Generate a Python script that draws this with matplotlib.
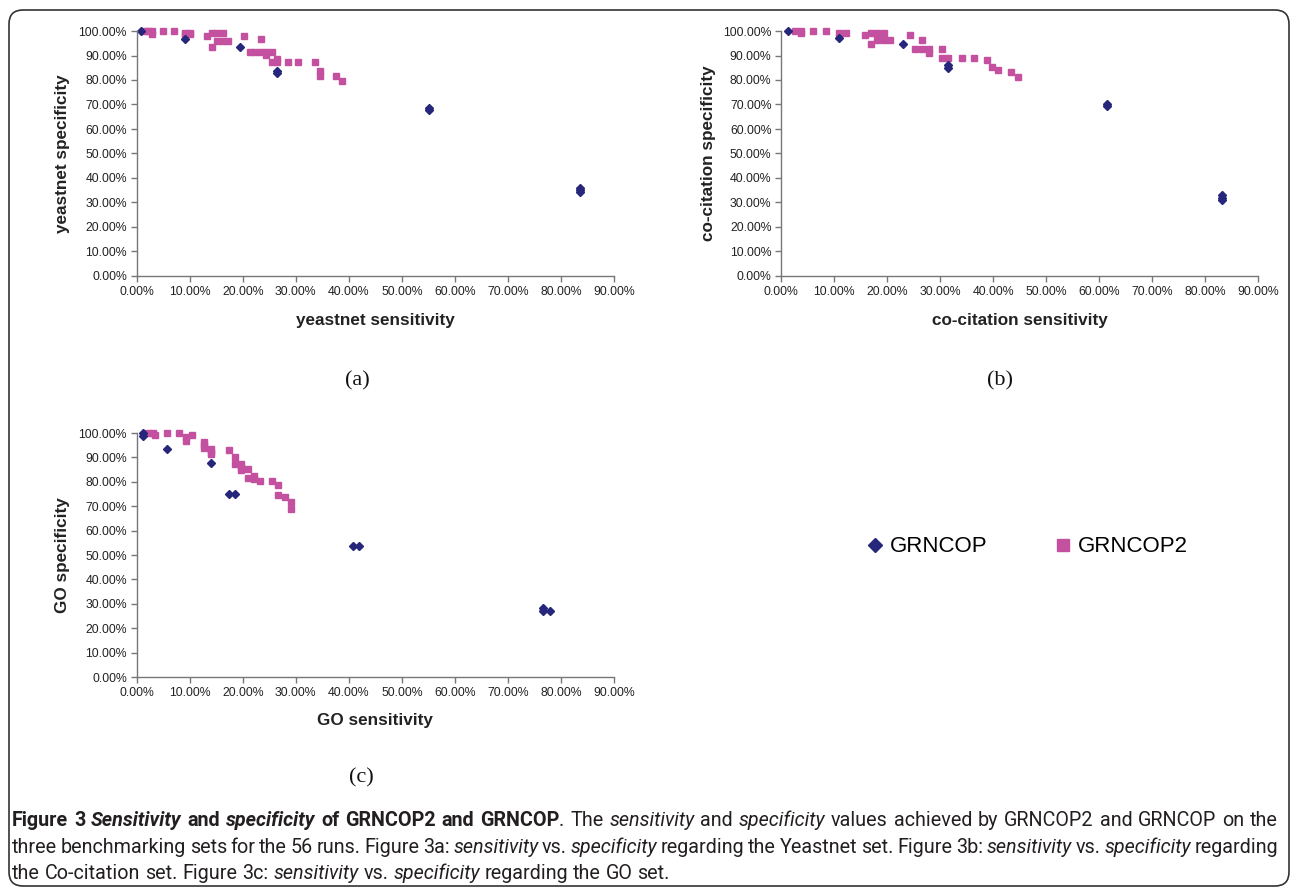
import matplotlib
matplotlib.use("Agg")
import matplotlib.pyplot as plt
from matplotlib.lines import Line2D
from matplotlib.patches import FancyBboxPatch
from matplotlib.transforms import IdentityTransform
from matplotlib.ticker import MultipleLocator, FuncFormatter

# sensitivity (x) / specificity (y) in percent
a_grncop_x = [0.9, 9.2, 19.4, 26.5, 26.5, 55.2, 55.2, 83.6, 83.6, 83.6]
a_grncop_y = [100.0, 96.7, 93.5, 83.8, 82.7, 68.5, 67.8, 36.0, 35.0, 34.2]
a_grncop2_x = [1.6, 2.2, 2.9, 2.9, 5.0, 7.0, 9.2, 10.1, 9.2, 10.1, 13.2, 14.2, 15.2, 16.2,
               14.2, 15.2, 16.2, 17.3, 20.3, 23.4, 21.4, 22.4, 23.4, 24.4, 25.5, 24.4,
               25.5, 26.5, 26.5, 28.5, 30.5, 33.6, 34.6, 34.6, 37.6, 38.7]
a_grncop2_y = [100.0, 100.0, 100.0, 98.8, 100.0, 100.0, 99.3, 99.3, 98.5, 98.6, 98.1, 99.3, 99.3, 99.3,
               93.6, 95.8, 95.8, 95.8, 98.0, 96.9, 91.6, 91.6, 91.6, 91.6, 91.6, 90.3,
               87.2, 87.2, 88.4, 87.2, 87.2, 87.2, 83.8, 81.8, 81.8, 79.5]

b_grncop_x = [1.3, 10.9, 23.0, 31.5, 31.5, 61.5, 61.5, 83.2, 83.2, 83.2]
b_grncop_y = [100.0, 97.3, 94.6, 86.1, 84.8, 70.0, 69.5, 33.1, 32.0, 31.0]
b_grncop2_x = [2.5, 3.7, 3.7, 6.0, 8.4, 10.9, 12.2, 15.7, 16.9, 18.1, 19.3, 16.9, 18.1, 19.3,
               20.6, 24.2, 26.6, 25.2, 26.6, 27.9, 27.9, 30.3, 30.3, 31.5, 34.0, 36.4,
               38.8, 39.8, 40.9, 43.4, 44.6]
b_grncop2_y = [100.0, 100.0, 99.0, 100.0, 100.0, 99.3, 99.3, 98.5, 99.3, 99.3, 99.3, 94.7, 96.3, 96.3,
               96.3, 98.4, 96.3, 92.7, 92.7, 92.7, 90.9, 92.7, 88.8, 88.8, 88.8, 88.8,
               88.0, 85.2, 84.2, 83.4, 81.3]

c_grncop_x = [1.1, 1.1, 5.8, 14.0, 17.4, 18.6, 40.7, 41.9, 76.7, 76.7, 78.0]
c_grncop_y = [100.0, 98.9, 93.4, 87.6, 75.1, 75.1, 53.7, 53.7, 28.2, 27.1, 27.0]
c_grncop2_x = [2.2, 3.1, 3.5, 5.8, 8.0, 9.3, 9.3, 10.4, 12.7, 12.7, 12.7, 14.0, 14.0, 14.0,
               17.4, 18.5, 18.5, 19.7, 19.7, 19.7, 20.9, 20.9, 22.1, 22.1, 23.2, 25.5,
               26.7, 26.7, 27.9, 29.1, 29.1]
c_grncop2_y = [100.0, 100.0, 99.1, 100.0, 100.0, 98.4, 96.7, 99.3, 96.4, 95.2, 94.0, 93.3, 92.3, 91.3,
               92.9, 90.2, 87.2, 87.2, 86.0, 84.8, 85.4, 81.4, 82.4, 81.1, 80.5, 80.5,
               78.6, 74.6, 73.7, 71.7, 68.8]

W, H = 1293, 891
navy = "#26267a"
pink = "#c4519f"
axis_gray = "#777777"
txt = "#222222"
sans = "Liberation Sans"
plt.rcParams["font.family"] = [sans, "DejaVu Sans"]

fig = plt.figure(figsize=(W / 100, H / 100), dpi=100)


def px_axes(left, top, right, bottom):
    return fig.add_axes([left / W, 1 - bottom / H, (right - left) / W, (bottom - top) / H])


def setup(ax):
    ax.set_xlim(0, 90)
    ax.set_ylim(0, 100)
    ax.xaxis.set_major_locator(MultipleLocator(10))
    ax.yaxis.set_major_locator(MultipleLocator(10))
    fmt = FuncFormatter(lambda v, p: "%.2f%%" % v)
    ax.xaxis.set_major_formatter(fmt)
    ax.yaxis.set_major_formatter(fmt)
    for s in ["top", "right"]:
        ax.spines[s].set_visible(False)
    for s in ["left", "bottom"]:
        ax.spines[s].set_color(axis_gray)
        ax.spines[s].set_linewidth(1.0)
    ax.tick_params(direction="out", length=4, width=1, color=axis_gray,
                   labelsize=8.8, labelcolor=txt, pad=3)


def draw(ax, gx, gy, g2x, g2y):
    ax.plot(g2x, g2y, ls="none", marker="s", ms=4.6, color=pink, mec=pink, clip_on=False)
    ax.plot(gx, gy, ls="none", marker="D", ms=4.4, color=navy, mec=navy, clip_on=False)


ax_a = px_axes(136.7, 31, 614, 276)
ax_b = px_axes(781.3, 31, 1258.3, 276)
ax_c = px_axes(136.7, 433, 614, 677)
for ax in (ax_a, ax_b, ax_c):
    setup(ax)
draw(ax_a, a_grncop_x, a_grncop_y, a_grncop2_x, a_grncop2_y)
draw(ax_b, b_grncop_x, b_grncop_y, b_grncop2_x, b_grncop2_y)
draw(ax_c, c_grncop_x, c_grncop_y, c_grncop2_x, c_grncop2_y)


def ftext(x, y, s, **kw):
    return fig.text(x / W, 1 - y / H, s, **kw)


lab_kw = dict(fontweight="bold", fontsize=12.3, color=txt, ha="center", va="center")
ftext(63, 153.5, "yeastnet specificity", rotation=90, **lab_kw)
ftext(375.4, 321, "yeastnet sensitivity", **lab_kw)
ftext(708, 153.5, "co-citation specificity", rotation=90, **lab_kw)
ftext(1019.8, 321, "co-citation sensitivity", **lab_kw)
ftext(63, 555, "GO specificity", rotation=90, **lab_kw)
ftext(375.4, 721, "GO sensitivity", **lab_kw)

pan_kw = dict(fontfamily="Liberation Serif", fontsize=16, color="#111111",
              ha="center", va="center")
ftext(357, 381, "(a)", **pan_kw)
ftext(1000, 381, "(b)", **pan_kw)
ftext(361, 778, "(c)", **pan_kw)

handles = [Line2D([], [], ls="none", marker="D", ms=7, color=navy, label="GRNCOP"),
           Line2D([], [], ls="none", marker="s", ms=8.5, color=pink, label="GRNCOP2")]
fig.legend(handles=handles, loc="center", bbox_to_anchor=(1027 / W, 1 - 547 / H),
           ncol=2, frameon=False, prop={"size": 16},
           handletextpad=0.25, columnspacing=3.0, handlelength=0.8)

# caption, laid out word by word
cap_lines = [
    [("Figure 3 ", "b"), ("Sensitivity", "bi"), (" and ", "b"), ("specificity", "bi"),
     (" of GRNCOP2 and GRNCOP", "b"), (". The ", "n"), ("sensitivity", "i"), (" and ", "n"),
     ("specificity", "i"), (" values achieved by GRNCOP2 and GRNCOP on the", "n")],
    [("three benchmarking sets for the 56 runs. Figure 3a: ", "n"), ("sensitivity", "i"),
     (" vs. ", "n"), ("specificity", "i"), (" regarding the Yeastnet set. Figure 3b: ", "n"),
     ("sensitivity", "i"), (" vs. ", "n"), ("specificity", "i"), (" regarding", "n")],
    [("the Co-citation set. Figure 3c: ", "n"), ("sensitivity", "i"), (" vs. ", "n"),
     ("specificity", "i"), (" regarding the GO set.", "n")],
]
cap_y = [826, 853, 879]
cap_left, cap_right = 12, 1278
cap_font = "Roboto"
renderer = fig.canvas.get_renderer()


def split_words(runs):
    words, cur = [], []
    for s, st in runs:
        parts = s.split(" ")
        for k, p in enumerate(parts):
            if k > 0 and cur:
                words.append(cur)
                cur = []
            if p:
                cur.append((p, st))
    if cur:
        words.append(cur)
    return words


def style_kw(st, fs):
    return dict(fontfamily=cap_font, fontsize=fs, color="#231f20",
                fontweight="bold" if "b" in st else "normal",
                fontstyle="italic" if "i" in st else "normal")


def measure(s, st, fs):
    t = fig.text(0, 0, s, **style_kw(st, fs))
    w = t.get_window_extent(renderer).width
    t.remove()
    return w


# fit the font size so the first line fills the caption width
base = 10
w1 = split_words(cap_lines[0])
sp = measure("x x", "n", base) - measure("xx", "n", base)
nat = sum(measure(p, st, base) for w in w1 for p, st in w) + sp * (len(w1) - 1)
cap_fs = base * (cap_right - cap_left) / nat * 0.985
space = measure("x x", "n", cap_fs) - measure("xx", "n", cap_fs)

for i, runs in enumerate(cap_lines):
    words = split_words(runs)
    widths = [[measure(p, st, cap_fs) for p, st in w] for w in words]
    total = sum(sum(w) for w in widths)
    if i < len(cap_lines) - 1:
        gap = (cap_right - cap_left - total) / (len(words) - 1)
    else:
        gap = space
    x = cap_left
    for w, ws in zip(words, widths):
        for (p, st), pw in zip(w, ws):
            fig.text(x / W, 1 - cap_y[i] / H, p, va="baseline", **style_kw(st, cap_fs))
            x += pw
        x += gap

frame = FancyBboxPatch((9, H - 886), 1280, 876, boxstyle="round,pad=0,rounding_size=14",
                       transform=IdentityTransform(), fill=False, edgecolor="#333333", lw=1.2)
fig.patches.append(frame)

fig.savefig("out.png", dpi=100)
